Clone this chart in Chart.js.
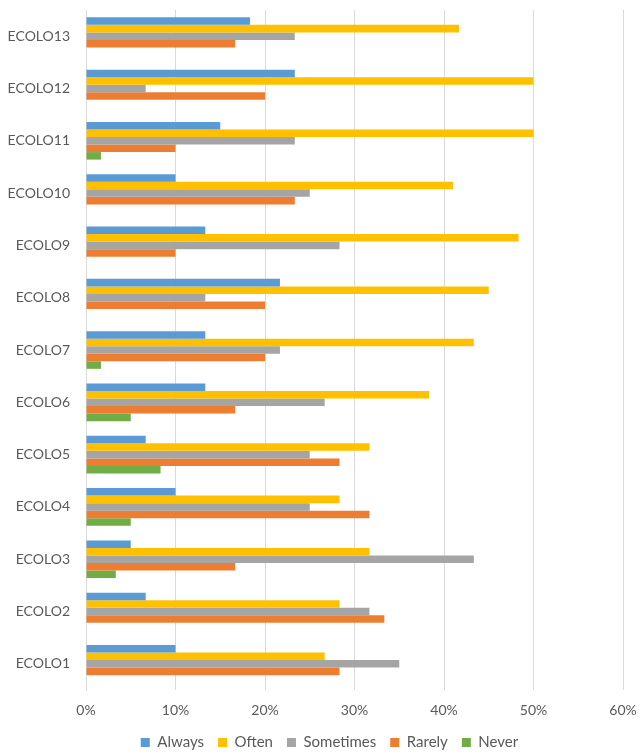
<!DOCTYPE html>
<html>
<head>
<meta charset="utf-8">
<title>ECOLO</title>
<script src="https://cdn.jsdelivr.net/npm/chart.js@4/dist/chart.umd.min.js"></script>
<style>
  html, body { margin: 0; padding: 0; background: #ffffff; }
  #wrap { width: 639px; height: 753px; position: relative; }
</style>
</head>
<body>
<div id="wrap"><canvas id="chart"></canvas></div>
<script>
// Items, bottom to top as on the axis
const items = ['ECOLO1', 'ECOLO2', 'ECOLO3', 'ECOLO4', 'ECOLO5', 'ECOLO6', 'ECOLO7',
               'ECOLO8', 'ECOLO9', 'ECOLO10', 'ECOLO11', 'ECOLO12', 'ECOLO13'];

// Share of answers (%) per item
const always    = [10, 6.67, 5, 10, 6.67, 13.33, 13.33, 21.67, 13.33, 10, 15, 23.33, 18.33];
const often     = [26.67, 28.33, 31.67, 28.33, 31.67, 38.33, 43.33, 45, 48.33, 41, 50, 50, 41.67];
const sometimes = [35, 31.67, 43.33, 25, 25, 26.67, 21.67, 13.33, 28.33, 25, 23.33, 6.67, 23.33];
const rarely    = [28.33, 33.33, 16.67, 31.67, 28.33, 16.67, 20, 20, 10, 23.33, 10, 20, 16.67];
const never     = [0, 0, 3.33, 5, 8.33, 5, 1.67, 0, 0, 0, 1.67, 0, 0];

const xTicks = [0, 10, 20, 30, 40, 50, 60];

const textColor = '#595959';
const gridColor = '#d9d9d9';
const font = { family: 'Lato', size: 14 };
const legendFont = { family: 'Lato', size: 15 };

// Chart.js lists categories top-down, so flip everything
const rev = arr => arr.slice().reverse();

const series = [
    { label: 'Always',    data: always,    color: '#5b9bd5' },
    { label: 'Often',     data: often,     color: '#ffc000' },
    { label: 'Sometimes', data: sometimes, color: '#a5a5a5' },
    { label: 'Rarely',    data: rarely,    color: '#ed7d31' },
    { label: 'Never',     data: never,     color: '#70ad47' }
];

// move the legend row a little to the right of the canvas centre
const legendShift = {
    id: 'legendShift',
    afterLayout(chart) {
        chart.legend.left += 18;
        chart.legend.right += 18;
    }
};

new Chart(document.getElementById('chart'), {
    type: 'bar',
    data: {
        labels: rev(items),
        datasets: series.map(s => ({
            label: s.label,
            data: rev(s.data),
            backgroundColor: s.color,
            borderWidth: 0,
            barPercentage: 1,
            categoryPercentage: 0.72
        }))
    },
    plugins: [legendShift],
    options: {
        indexAxis: 'y',
        responsive: true,
        maintainAspectRatio: false,
        animation: false,
        layout: { padding: { top: 10, right: 16, left: 0, bottom: -7 } },
        plugins: {
            tooltip: { enabled: false },
            legend: {
                position: 'bottom',
                labels: {
                    color: textColor,
                    font: legendFont,
                    boxWidth: 9,
                    boxHeight: 9,
                    padding: 14
                }
            }
        },
        scales: {
            x: {
                min: xTicks[0],
                max: xTicks[xTicks.length - 1],
                afterBuildTicks: axis => { axis.ticks = xTicks.map(v => ({ value: v })); },
                afterFit: axis => {
                    axis.height = 31;
                    axis.paddingLeft = 0;
                    axis.paddingRight = 0;
                },
                ticks: {
                    color: textColor,
                    font: font,
                    padding: 12,
                    maxRotation: 0,
                    callback: v => v + '%'
                },
                grid: { color: gridColor, lineWidth: 1, drawTicks: false },
                border: { display: false }
            },
            y: {
                afterFit: axis => {
                    axis.width = 86;
                    axis.paddingTop = 0;
                    axis.paddingBottom = 0;
                },
                ticks: { color: textColor, font: font, padding: 16 },
                grid: { display: false, drawTicks: false },
                border: { display: true, color: gridColor }
            }
        }
    }
});
</script>
</body>
</html>
